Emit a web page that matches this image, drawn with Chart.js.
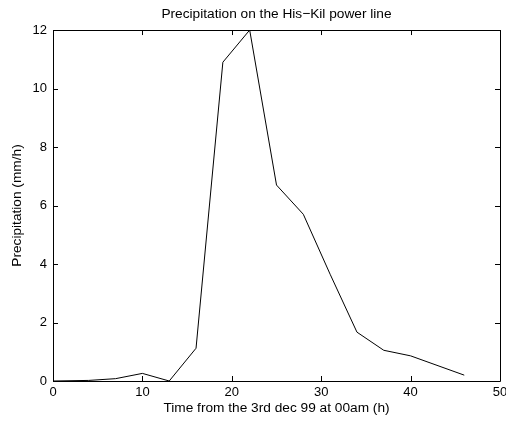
<!DOCTYPE html>
<html>
<head>
<meta charset="utf-8">
<script src="https://cdn.jsdelivr.net/npm/chart.js@4.4.1/dist/chart.umd.min.js"></script>
<style>
  html, body { margin: 0; padding: 0; background: #fff; }
  #wrap { width: 506px; height: 421px; }
</style>
</head>
<body>
<div id="wrap"><canvas id="chart"></canvas></div>
<script>
// hours from 3 dec 99 00am
const hours = [0, 4, 7, 10, 13, 16, 19, 22, 25, 28, 31, 34, 37, 40, 46];
// precipitation (mm/h)
const precip = [0, 0.02, 0.08, 0.26, 0, 1.12, 10.9, 12.0, 6.7, 5.7, 3.65, 1.67, 1.05, 0.86, 0.2];

const xTicks = [0, 10, 20, 30, 40, 50];
const yTicks = [0, 2, 4, 6, 8, 10, 12];

Chart.defaults.font.family = '"Liberation Sans", Arial, Helvetica, sans-serif';
Chart.defaults.font.size = 13;
Chart.defaults.color = '#000';

// matlab style box with inward ticks on all four sides
const boxPlugin = {
    id: 'box',
    afterDraw(chart) {
        const { ctx, chartArea: a, scales } = chart;
        const len = 5;
        ctx.save();
        ctx.strokeStyle = '#000';
        ctx.lineWidth = 1;
        ctx.beginPath();
        ctx.rect(Math.round(a.left) + 0.5, Math.round(a.top) + 0.5,
            Math.round(a.right - a.left), Math.round(a.bottom - a.top));
        scales.x.ticks.forEach(t => {
            const px = Math.round(scales.x.getPixelForValue(t.value)) + 0.5;
            ctx.moveTo(px, a.bottom);
            ctx.lineTo(px, a.bottom - len);
            ctx.moveTo(px, a.top);
            ctx.lineTo(px, a.top + len);
        });
        scales.y.ticks.forEach(t => {
            const py = Math.round(scales.y.getPixelForValue(t.value)) + 0.5;
            ctx.moveTo(a.left, py);
            ctx.lineTo(a.left + len, py);
            ctx.moveTo(a.right, py);
            ctx.lineTo(a.right - len, py);
        });
        ctx.stroke();
        ctx.restore();
    },
};

const data = hours.map((h, i) => ({ x: h, y: precip[i] }));

const chart = new Chart(document.getElementById('chart'), {
    type: 'line',
    data: {
        datasets: [{
            data,
            borderColor: '#000',
            borderWidth: 1,
            pointRadius: 0,
            tension: 0,
            fill: false,
        }],
    },
    options: {
        animation: false,
        responsive: true,
        maintainAspectRatio: false,
        events: [],
        layout: { padding: { left: 0, right: 6, top: 0, bottom: 0 } },
        plugins: {
            legend: { display: false },
            tooltip: { enabled: false },
            title: {
                display: true,
                fullSize: false,
                text: 'Precipitation on the His\u2212Kil power line',
                font: { size: 13.7, weight: 'normal' },
                padding: { top: 6, bottom: 7.6 },
            },
        },
        scales: {
            x: {
                type: 'linear',
                min: 0,
                max: 50,
                afterBuildTicks: s => { s.ticks = xTicks.map(v => ({ value: v })); },
                afterFit: s => { s.height = 40; s.paddingLeft = 0; s.paddingRight = 0; },
                grid: { display: false, drawTicks: false },
                border: { display: false },
                ticks: { padding: 4, maxRotation: 0 },
                title: {
                    display: true,
                    text: 'Time from the 3rd dec 99 at 00am (h)',
                    font: { size: 13.7 },
                    padding: { top: 0, bottom: 5 },
                },
            },
            y: {
                type: 'linear',
                min: 0,
                max: 12,
                afterBuildTicks: s => { s.ticks = yTicks.map(v => ({ value: v })); },
                afterFit: s => { s.width = 53; s.paddingTop = 0; s.paddingBottom = 0; },
                grid: { display: false, drawTicks: false },
                border: { display: false },
                ticks: { padding: 6 },
                title: {
                    display: true,
                    text: 'Precipitation (mm/h)',
                    font: { size: 13.7 },
                    padding: { top: 9, bottom: 0 },
                },
            },
        },
    },
    plugins: [boxPlugin],
});
</script>
</body>
</html>
